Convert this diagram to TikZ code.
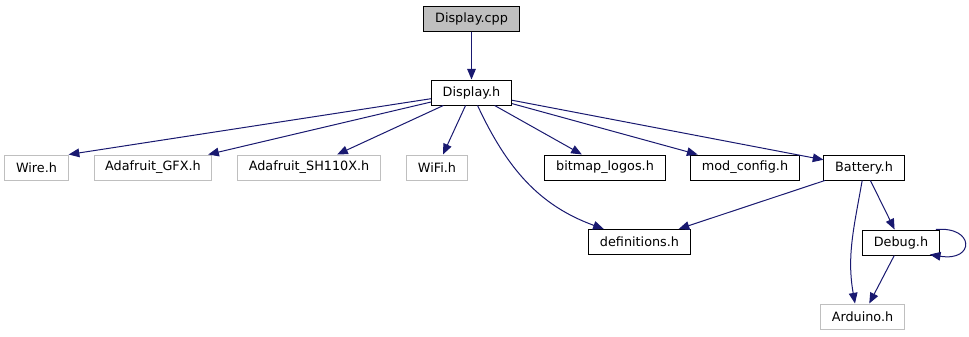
\documentclass[tikz,border=0pt]{standalone}
\usepackage{fontspec}
\setmainfont{DejaVu Sans}
\usetikzlibrary{arrows.meta, calc}
\definecolor{edgeblue}{RGB}{25,25,112}
\definecolor{extgray}{RGB}{191,191,191}

\begin{document}
\begin{tikzpicture}[x=0.75pt, y=0.75pt,
	every node/.style={font=\fontsize{9.6pt}{11pt}\selectfont, minimum height=18.75pt,
		inner xsep=8.4pt, inner ysep=0pt, line width=0.75pt},
	hdr/.style={draw=black, fill=white},
	ext/.style={draw=extgray, fill=white},
	src/.style={draw=black, fill=extgray},
	dep/.style={draw=edgeblue, line width=0.75pt, -{Triangle[length=8pt, width=6.5pt]}}]

	\useasboundingbox (0,0) rectangle (969,-336);

	% Source file and its header
	\node[src] (cpp) at (471.5,-18.5) {Display.cpp};
	\node[hdr] (disp) at (471.5,-92.5) {Display.h};

	% Included headers
	\node[ext] (wire) at (36.5,-167.5) {Wire.h};
	\node[ext] (gfx) at (153,-167.5) {Adafruit\_GFX.h};
	\node[ext] (sh) at (309,-167.5) {Adafruit\_SH110X.h};
	\node[ext] (wifi) at (437,-167.5) {WiFi.h};
	\node[hdr] (logos) at (605,-167.5) {bitmap\_logos.h};
	\node[hdr] (modcfg) at (745,-167.5) {mod\_config.h};
	\node[hdr] (batt) at (864,-167.5) {Battery.h};
	\node[hdr] (defs) at (639.5,-242) {definitions.h};
	\node[hdr] (dbg) at (901,-242.5) {Debug.h};
	\node[ext] (ard) at (862.5,-316.5) {Arduino.h};

	% Include edges
	\draw[dep] (cpp) -- (disp);
	\draw[dep] (disp) -- (wire.north east);
	\draw[dep] (disp) -- (gfx);
	\draw[dep] (disp) -- (sh);
	\draw[dep] (disp) -- (wifi);
	\draw[dep] (disp) -- (logos);
	\draw[dep] (disp) -- (modcfg);
	\draw[dep] (disp) -- (batt);
	\draw[dep] (disp) to[out=-65, in=160] (defs);
	\draw[dep] (batt) -- (defs);
	\draw[dep] (batt) -- (dbg);
	\draw[dep] (batt.-98) to[out=-100, in=100] (ard.120);
	\draw[dep] (dbg) -- (ard);

	% Debug.h includes itself
	\draw[dep] ($(dbg.north east)+(-4,0)$) .. controls (975,-226) and (975,-262) .. ($(dbg.south east)+(-10,1)$);

\end{tikzpicture}
\end{document}
